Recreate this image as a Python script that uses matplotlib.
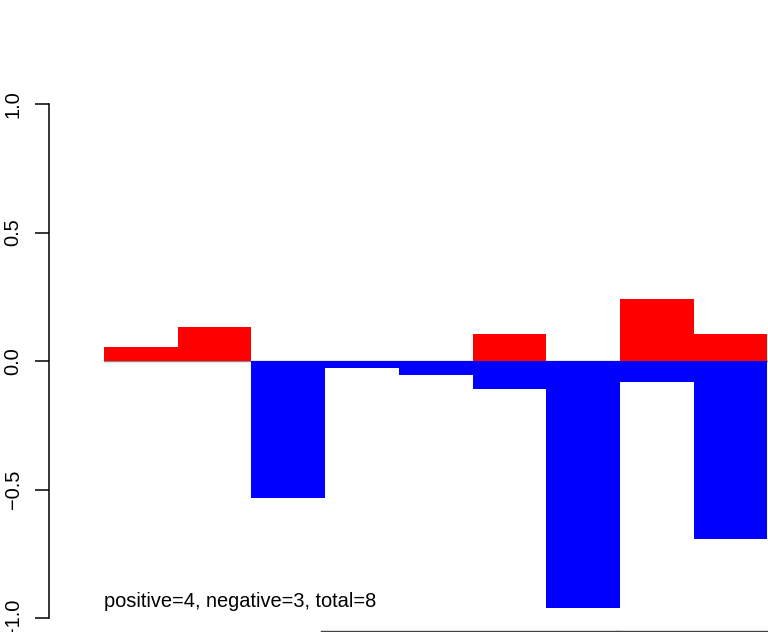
import matplotlib
matplotlib.use("Agg")
import matplotlib.pyplot as plt
from matplotlib.lines import Line2D
import numpy as np

plt.rcParams['font.family'] = ['Liberation Sans', 'DejaVu Sans']

positive = [0.054, 0.132, 0.0, 0.0, 0.0, 0.105, 0.0, 0.240, 0.105]
negative = [0.0, 0.0, -0.535, -0.027, -0.054, -0.109, -0.960, -0.081, -0.694]
yticks = [-1.0, -0.5, 0.0, 0.5, 1.0]
ytick_labels = ["\u22121.0", "\u22120.5", "0.0", "0.5", "1.0"]
note = "positive=4, negative=3, total=8"

W, H = 768, 632
fig = plt.figure(figsize=(W / 100, H / 100), dpi=100)
ax = fig.add_axes([49 / W, (H - 618) / H, (W - 49) / W, (618 - 104) / H])

bw = 73.7
xmin = -(104 - 49) / bw
xmax = xmin + (W - 49) / bw
ax.set_xlim(xmin, xmax)
ax.set_ylim(-1, 1)

x = np.arange(len(positive))
ax.plot([0, xmax], [0, 0], color='#888888', lw=1.0, zorder=1, clip_on=True)
ax.bar(x, positive, width=1.0, align='edge', color='#ff0000', linewidth=0, zorder=2)
ax.bar(x, negative, width=1.0, align='edge', color='#0000ff', linewidth=0, zorder=2)

for s in ['top', 'right', 'bottom']:
    ax.spines[s].set_visible(False)
ax.spines['left'].set_linewidth(1.1)
ax.spines['left'].set_bounds(-1, 1)
ax.set_xticks([])
ax.set_yticks(yticks)
ax.set_yticklabels(ytick_labels, rotation=90, va='center', fontsize=14.4)
ax.tick_params(axis='y', length=10, width=1.1, pad=9)

ax.text(0, -0.957, note, fontsize=14.4, ha='left', va='baseline')

# partial frame of a following panel at the bottom edge
fig.add_artist(Line2D([321 / W, 1.0], [1 - 631 / H, 1 - 631 / H], color='#444444', lw=1.0))
fig.add_artist(Line2D([617 / W, 617 / W], [0, 1 - 631 / H], color='#444444', lw=1.0))

fig.savefig("out.png", dpi=100)
